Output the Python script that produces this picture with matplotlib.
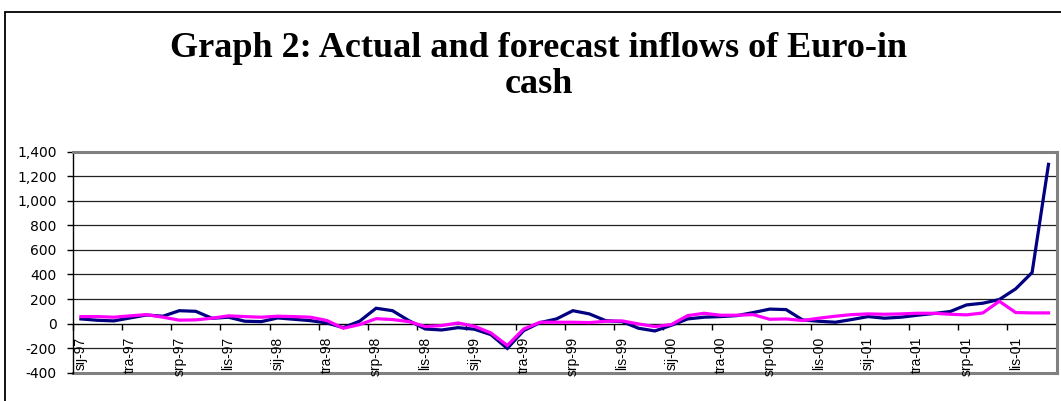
import matplotlib
matplotlib.use("Agg")
import matplotlib.pyplot as plt
from matplotlib.patches import Rectangle
from matplotlib.ticker import FixedLocator, FuncFormatter
import numpy as np

# Quarterly category labels (Croatian month abbreviations), one per 3 months
quarter_labels = [
    "sij-97", "tra-97", "srp-97", "lis-97",
    "sij-98", "tra-98", "srp-98", "lis-98",
    "sij-99", "tra-99", "srp-99", "lis-99",
    "sij-00", "tra-00", "srp-00", "lis-00",
    "sij-01", "tra-01", "srp-01", "lis-01",
]

# Monthly inflows, Jan 1997 - Dec 2001
actual = [
    38, 27, 22, 46, 70, 60, 105, 100, 43, 52, 19, 16,
    46, 35, 24, 5, -33, 20, 125, 105, 24, -44, -52, -33,
    -46, -90, -202, -57, 8, 38, 105, 79, 24, 16, -38, -60,
    -14, 38, 52, 57, 65, 90, 118, 114, 30, 19, 11, 33,
    57, 44, 52, 68, 82, 98, 152, 166, 196, 283, 416, 1297,
]
forecast = [
    57, 57, 52, 63, 73, 52, 28, 30, 44, 63, 57, 52,
    60, 57, 52, 25, -38, -8, 40, 33, 16, -24, -16, 5,
    -22, -76, -178, -44, 11, 11, 11, 8, 19, 22, -3, -24,
    -8, 65, 84, 68, 68, 73, 35, 38, 25, 44, 60, 73,
    79, 76, 79, 84, 84, 76, 71, 87, 182, 90, 87, 87,
]

y_ticks = [-400, -200, 0, 200, 400, 600, 800, 1000, 1200, 1400]

fig = plt.figure(figsize=(10.61, 4.01), dpi=100)
fig.patch.set_facecolor("white")

# Chart-area frame (runs off the right and bottom edges)
fig.patches.append(Rectangle((5 / 1061, -0.05), 1.2, (401 - 12) / 401 + 0.05,
                             transform=fig.transFigure, fill=False,
                             edgecolor="black", linewidth=1.3))

ax = fig.add_axes([72.7 / 1061, (401 - 372.7) / 401,
                   (1056.7 - 72.7) / 1061, (372.7 - 151.7) / 401])

x = np.arange(len(actual))
ax.set_xlim(-0.5, len(actual) - 0.5)
ax.set_ylim(y_ticks[0], y_ticks[-1])

# Horizontal gridlines
for v in y_ticks[1:-1]:
    if v != 0:
        ax.axhline(v, color="#222222", linewidth=0.9, zorder=1)
ax.axhline(y_ticks[0], color="#808080", linewidth=2.2, zorder=1, clip_on=False)

ax.plot(x, actual, color="#000080", linewidth=2.3, zorder=3,
        solid_joinstyle="miter")
ax.plot(x, forecast, color="#FF00FF", linewidth=2.3, zorder=4,
        solid_joinstyle="miter")

# Spines: value axis black, plot-area border grey, category axis at zero
for side in ("top", "right"):
    ax.spines[side].set_color("#808080")
    ax.spines[side].set_linewidth(2.2)
ax.spines["left"].set_color("black")
ax.spines["left"].set_linewidth(1.0)
ax.spines["bottom"].set_position(("data", 0))
ax.spines["bottom"].set_color("black")
ax.spines["bottom"].set_linewidth(1.0)
ax.spines["bottom"].set_zorder(2)

# Category axis: tick marks between groups of 3 months, labels on each quarter
ax.xaxis.set_major_locator(FixedLocator(list(range(0, len(actual), 3))))
ax.set_xticklabels(quarter_labels, rotation=90, fontsize=10,
                   family="Liberation Sans")
ax.xaxis.set_minor_locator(FixedLocator(list(np.arange(-0.5, len(actual), 3))))
ax.tick_params(axis="x", which="major", length=0, pad=9.5)
ax.tick_params(axis="x", which="minor", length=4, width=1.0,
               direction="out", color="black")

# Value axis
ax.yaxis.set_major_locator(FixedLocator(y_ticks))
ax.yaxis.set_major_formatter(FuncFormatter(lambda v, p: f"{int(v):,}"))
ax.tick_params(axis="y", which="major", length=4.5, width=1.0,
               direction="out", color="black", pad=7, labelsize=10)
for lab in ax.get_yticklabels():
    lab.set_family("DejaVu Sans")

# Title in two lines
fig.text(539 / 1061, 1 - 57 / 401, "Graph 2: Actual and forecast inflows of Euro-in",
         ha="center", va="baseline", fontsize=26, fontweight="bold",
         family="Liberation Serif")
fig.text(539 / 1061, 1 - 93 / 401, "cash",
         ha="center", va="baseline", fontsize=26, fontweight="bold",
         family="Liberation Serif")

fig.savefig("out.png", dpi=100, facecolor="white")
